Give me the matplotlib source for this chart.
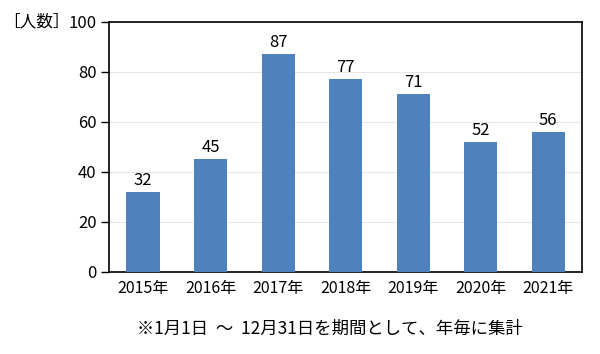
import matplotlib
matplotlib.use("Agg")
import matplotlib.pyplot as plt

plt.rcParams['font.family'] = ['Noto Sans CJK JP', 'DejaVu Sans']

years = ['2015年', '2016年', '2017年', '2018年', '2019年', '2020年', '2021年']
counts = [32, 45, 87, 77, 71, 52, 56]
yticks = [0, 20, 40, 60, 80, 100]

fig = plt.figure(figsize=(6, 3.54), dpi=100)
ax = fig.add_axes([0.182, 0.232, 0.788, 0.706])

x = range(len(years))
bars = ax.bar(x, counts, width=0.49, color='#4F81BD', zorder=3)
for b, v in zip(bars, counts):
    ax.text(b.get_x() + b.get_width() / 2, v + 1.2, str(v),
            ha='center', va='bottom', fontsize=12)

ax.set_xlim(-0.5, len(years) - 0.5)
ax.set_ylim(0, 100)
ax.set_yticks(yticks)
ax.set_xticks(list(x))
ax.set_xticklabels(years)
ax.tick_params(axis='y', direction='out', length=6, width=1, labelsize=12, pad=3)
ax.tick_params(axis='x', length=0, labelsize=11.5, pad=6)
ax.yaxis.grid(True, color='#e6e6e6', lw=0.8, zorder=0)
for s in ax.spines.values():
    s.set_linewidth(1.2)
    s.set_color('black')

fig.text(0.005, 0.938, '［人数］', fontsize=12, va='center', ha='left')
fig.text(0.55, 0.07, '※1月1日  ～  12月31日を期間として、年毎に集計',
         fontsize=12.5, ha='center', va='center')

fig.savefig('out.png', dpi=100)
